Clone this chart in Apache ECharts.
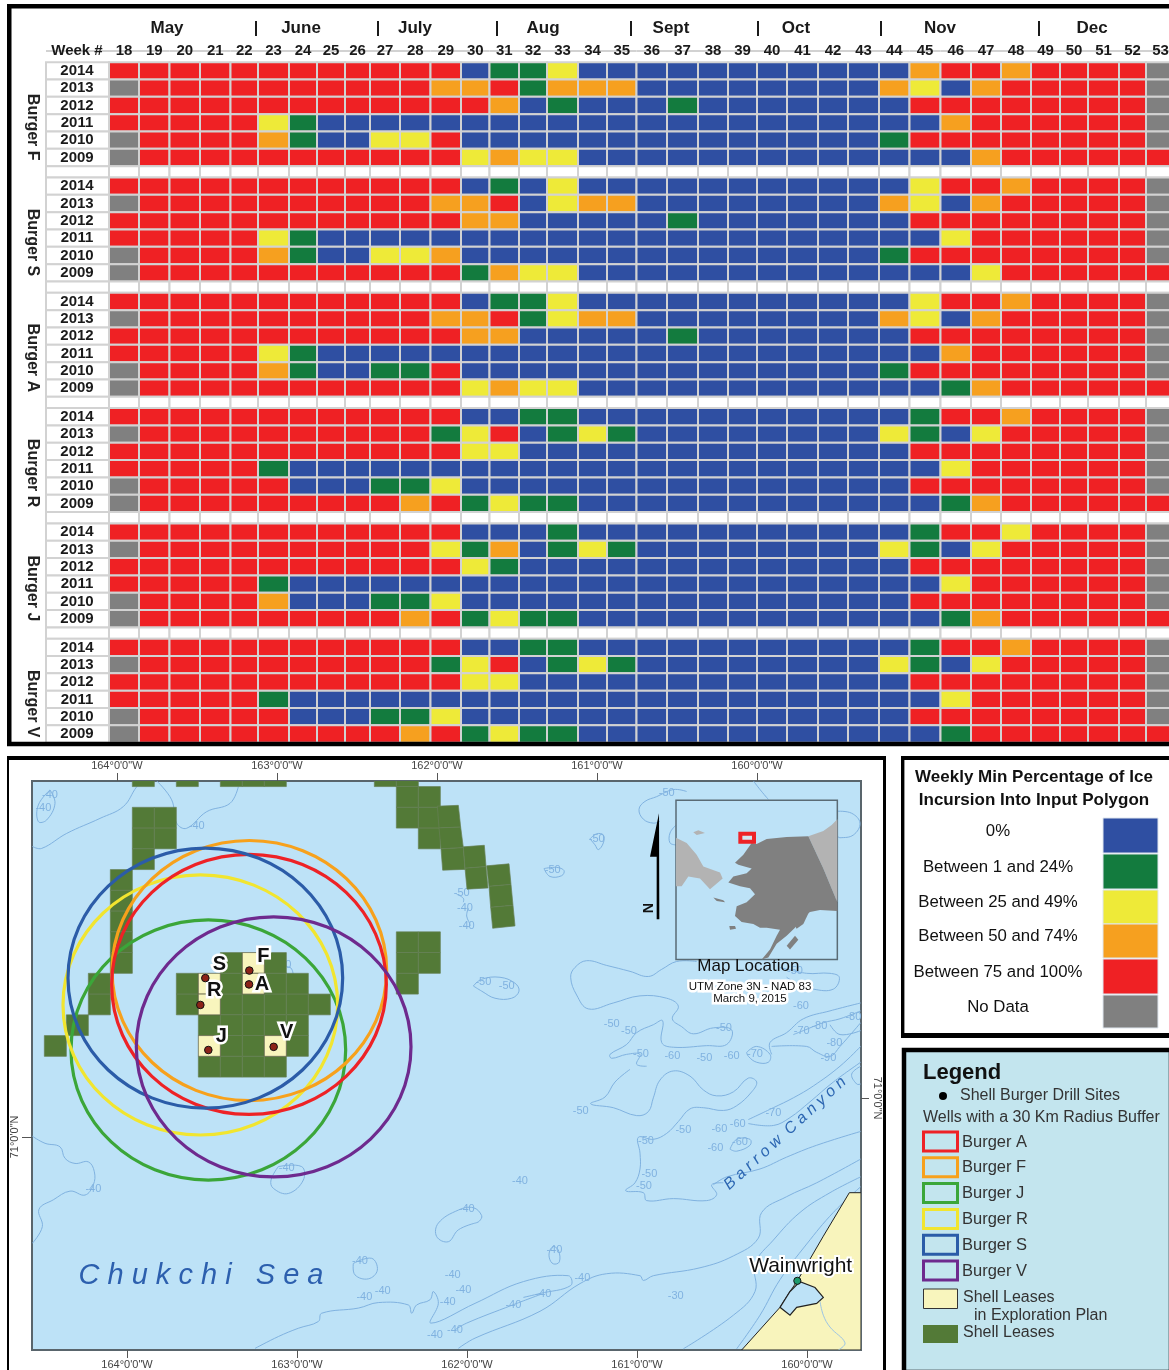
<!DOCTYPE html>
<html>
<head>
<meta charset="utf-8">
<title>Burger ice incursion</title>
<script src="https://cdn.jsdelivr.net/npm/echarts@6/dist/echarts.min.js"></script>
<style>
html, body { margin: 0; padding: 0; background: #fff; }
#chart { width: 1169px; height: 1370px; }
</style>
</head>
<body>
<div id="chart"></div>
<script>
/* ---- heat table data ---- */
var weeks = [18,19,20,21,22,23,24,25,26,27,28,29,30,31,32,33,34,35,36,37,38,39,40,41,42,43,44,45,46,47,48,49,50,51,52,53];
var years = ['2014','2013','2012','2011','2010','2009'];
var months = ['May','June','July','Aug','Sept','Oct','Nov','Dec'];
var siteNames = ['Burger F','Burger S','Burger A','Burger R','Burger J','Burger V'];

// one character per week: 0 = 0%, 1 = 1-24, 2 = 25-49, 3 = 50-74, 4 = 75-100, 5 = no data
var burgerF = [
  '444444444444 0112 00000000000 3443 4444 5',
  '5 4444444444 33 4 1 333 00000000 3 2 0 3 44444 5',
  '4444444444444 3 0 1 000 1 0000000 44444444 5',
  '44444 2 1 000000000000000000000 3 444444 5',
  '5 4444 3 1 00 22 4 00000000000000 1 44444444 5',
  '5 44444444444 2 3 2 2 0000000000000 3 444444'
];
var burgerS = [
  '444444444444 0 1 0 2 00000000000 2 4 4 3 4444 5',
  '5 4444444444 33 4 0 2 33 00000000 3 2 0 3 44444 5',
  '444444444444 33 00000 1 0000000 44444444 5',
  '44444 2 1 000000000000000000000 2 444444 5',
  '5 4444 3 1 00 22 3 00000000000000 1 44444444 5',
  '5 44444444444 1 3 2 2 0000000000000 2 444444'
];
var burgerA = [
  '444444444444 0 1 1 2 00000000000 2 4 4 3 4444 5',
  '5 4444444444 33 4 1 2 33 00000000 3 2 0 3 44444 5',
  '444444444444 33 00000 1 0000000 44444444 5',
  '44444 2 1 000000000000000000000 3 444444 5',
  '5 4444 3 1 00 11 4 00000000000000 1 44444444 5',
  '5 44444444444 2 3 2 2 000000000000 1 3 444444'
];
var burgerR = [
  '444444444444 0 0 1 1 00000000000 1 4 4 3 4444 5',
  '5 4444444444 1 2 4 0 1 2 1 00000000 2 1 0 2 44444 5',
  '444444444444 22 0000000000000 44444444 5',
  '44444 1 0000000000000000000000 2 444444 5',
  '5 44444 000 11 2 000000000000000 44444444 5',
  '5 444444444 3 4 1 2 1 1 000000000000 1 3 444444'
];
var burgerJ = [
  '444444444444 000 1 00000000000 1 44 2 4444 5',
  '5 4444444444 2 1 3 0 1 2 1 00000000 2 1 0 2 44444 5',
  '444444444444 2 1 0000000000000 44444444 5',
  '44444 1 0000000000000000000000 2 444444 5',
  '5 4444 3 000 11 2 000000000000000 44444444 5',
  '5 444444444 3 4 1 2 1 1 000000000000 1 3 444444'
];
var burgerV = [
  '444444444444 0 0 1 1 00000000000 1 4 4 3 4444 5',
  '5 4444444444 1 2 4 0 1 2 1 00000000 2 1 0 2 44444 5',
  '444444444444 22 0000000000000 44444444 5',
  '44444 1 0000000000000000000000 2 444444 5',
  '5 44444 000 11 2 000000000000000 44444444 5',
  '5 444444444 3 4 1 2 1 1 000000000000 1 4444444'
];
var allSites = [burgerF, burgerS, burgerA, burgerR, burgerJ, burgerV];

var iceLabels = ['0%','Between 1 and 24%','Between 25 and 49%','Between 50 and 74%','Between 75 and 100%','No Data'];
var iceColors = ['#2f4fa2','#137b3e','#eeea38','#f6a01f','#ef2124','#808080'];

/* ---- map data, in digitised map units ---- */
var drillNames = ['A','F','J','R','S','V'];
var drillX = [-573,-572,-695,-719,-704,-499];
var drillY = [593,558,759,645,577,751];
var bufferColors = ['#ee2226','#f7a11c','#3ba639','#f1e52f','#2b5ca8','#6e2a8e'];
var bufferOrder = [2,3,1,0,4,5];

var shellLeases = [
  [4,-2],[6,-2],[8,-2],[9,-2],[10,-2],[15,-2],[16,-2],
  [4,0],[5,0],[4,1],[5,1],[4,2],[3,3],[3,4],[3,5],[3,6],[3,7],[2,8],[2,9],[1,10],[0,11],
  [8,7],[10,7],[6,8],[8,8],[10,8],[11,8],[6,9],[8,9],[9,9],[10,9],[11,9],[12,9],
  [7,10],[8,10],[9,10],[10,10],[11,10],[8,11],[9,11],[11,11],[7,12],[8,12],[9,12],[10,12],
  [16,-1],[16,0],[17,-1],[17,0],[17,1],[16,6],[17,6],[16,7],[17,7],[16,8]
];
var planLeases = [[7,8],[7,9],[9,7],[9,8],[7,11],[10,11]];
var leaseChain = [
  [[-8,142],[55,140],[62,195],[-3,197]],
  [[-3,197],[62,195],[70,247],[3,250]],
  [[3,250],[70,247],[75,302],[8,304]],
  [[70,245],[133,241],[138,295],[75,299]],
  [[75,299],[138,295],[144,349],[81,352]],
  [[140,293],[207,288],[213,340],[147,345]],
  [[147,345],[213,340],[219,393],[152,398]],
  [[152,398],[219,393],[225,445],[158,451]]
];

var contours = [
  [[-1223,244],[-1195,249],[-1120,211],[-1020,173],[-950,143],[-910,93],[-890,78]],
  [[-850,78],[-805,126],[-790,185],[-760,198],[-700,156],[-630,135],[-605,93]],
  [[-1170,101],[-1155,135],[-1180,177],[-1205,181],[-1205,139],[-1170,101]],
  [[-1223,977],[-1185,995],[-1140,1004],[-1125,1033],[-1095,1046],[-1055,1042],[-1037,1067],[-1040,1100],[-1065,1126],[-1110,1116],[-1160,1138],[-1203,1162],[-1193,1206],[-1223,1248]],
  [[-485,1054],[-415,1054],[-410,1088],[-455,1122],[-500,1109],[-507,1088],[-485,1054]],
  [[-510,548],[-450,550],[-440,570]],
  [[105,1197],[55,1214],[25,1244],[-10,1231],[-5,1197],[55,1164],[100,1158],[125,1178],[118,1192],[105,1197]],
  [[-260,1299],[-205,1286],[-188,1316],[-215,1338],[-255,1328],[-260,1299]],
  [[-555,1514],[-485,1484],[-425,1463],[-365,1446],[-355,1425],[-245,1412],[-185,1398],[-95,1404],[-85,1425],[-70,1404],[-30,1391],[-20,1370],[-5,1400],[-27,1450],[105,1400],[250,1345],[385,1330],[392,1355],[300,1375],[250,1385]],
  [[45,1467],[80,1450],[215,1405],[300,1378]],
  [[55,1514],[105,1488],[300,1420],[420,1350],[500,1325],[600,1330],[610,1342],[640,1330],[780,1310],[880,1280],[955,1235],[965,1170],[1040,1130],[1130,1095],[1262,1035]],
  [[730,1515],[880,1430],[945,1370],[945,1300],[1000,1240],[1080,1170],[1170,1120],[1262,1080]],
  [[890,1515],[960,1430],[1020,1340],[1100,1250],[1180,1170],[1262,1105]],
  [[708,240],[690,235],[690,210],[708,190]],
  [[660,180],[640,185],[610,175],[597,150],[615,130],[650,118],[700,100],[740,105]],
  [[1192,155],[1235,160],[1260,185],[1240,215],[1200,222],[1192,218]],
  [[940,78],[960,100],[985,125]],
  [[450,225],[465,240],[475,252],[490,235],[490,215],[470,212],[450,225]],
  [[312,300],[350,297],[372,305],[365,318],[330,320],[312,300]],
  [[50,365],[70,375],[70,385]],
  [[85,400],[80,420],[90,445],[70,445]],
  [[100,597],[125,580],[180,575],[225,590],[237,610],[215,628],[165,628],[125,610],[100,597]],
  [[770,535],[710,535],[665,555],[625,573],[570,560],[500,545],[440,533],[405,550],[392,575],[410,620],[445,655],[520,640],[600,622],[680,628],[715,648],[697,680],[725,700],[760,718],[820,703],[875,708],[860,745],[800,748],[700,752],[665,740],[668,685],[640,695],[590,715],[560,745],[510,770],[515,780],[560,770],[600,770],[590,795],[620,800]],
  [[1020,550],[1100,565],[1170,565],[1198,575],[1180,605],[1120,605],[1070,590],[1040,575]],
  [[570,808],[525,840],[495,878],[452,895],[520,905],[590,925],[625,915],[640,880],[660,835],[700,812],[750,825],[790,860],[830,875],[880,865],[925,830],[950,840],[935,865],[890,900],[850,912],[790,905],[750,908],[715,940],[680,970],[640,985],[595,980],[600,1020],[600,1060],[585,1095],[557,1115],[610,1120],[620,1140],[700,1135],[800,1140],[830,1125],[815,1100],[850,1095]],
  [[995,770],[990,740],[1040,715],[1090,680],[1170,660],[1262,640]],
  [[1262,660],[1200,680],[1150,690],[1090,710],[1060,720]],
  [[1262,710],[1200,720],[1170,695]],
  [[920,765],[950,750],[990,770],[985,790],[950,790],[925,775],[920,765]],
  [[995,750],[1100,750],[1130,765],[1170,775],[1200,750],[1262,690]],
  [[925,935],[1000,905],[1060,880],[1120,850],[1200,800],[1262,750]],
  [[925,945],[1000,950],[1050,930],[1110,890],[1180,840],[1262,790]],
  [[1262,800],[1235,820],[1250,845],[1262,845]],
  [[870,1010],[890,985],[930,985],[930,1000],[890,1015],[870,1010]],
  [[820,1100],[860,1080],[960,1060],[1040,1030],[1130,1000],[1262,965]],
  [[340,1255],[355,1265],[358,1295],[340,1300],[328,1285],[330,1265],[340,1255]]
];
var contourLabelX = [-1170,-1190,-730,-470,-1040,-460,80,-240,-172,-227,38,70,23,-15,45,680,470,338,65,75,80,130,200,515,567,603,697,793,875,945,852,1083,1085,1138,1240,1183,1165,1065,422,730,618,838,893,1000,826,900,628,612,240,343,220,310,427,707];
var contourLabelY = [114,146,192,544,1111,1058,1162,1294,1368,1385,1328,1366,1397,1480,1467,108,225,303,362,400,445,587,597,693,710,770,775,780,775,770,703,648,712,697,675,740,778,560,912,962,988,960,945,918,1008,992,1072,1102,1090,1265,1403,1375,1335,1382];
var contourLabelText = [-40,-40,-40,-50,-40,-40,-40,-40,-40,-40,-40,-40,-40,-40,-40,-50,-50,-50,-50,-40,-40,-50,-50,-50,-50,-50,-60,-50,-60,-70,-50,-60,-70,-80,-80,-80,-90,-50,-50,-50,-50,-60,-60,-70,-60,-60,-50,-50,-40,-40,-40,-40,-40,-30];

var alaskaLand = [[885,285],[910,265],[935,235],[950,238],[980,225],[1040,220],[1105,218],[1150,300],[1192,385],[1192,407],[1140,405],[1110,410],[1085,425],[1065,450],[1040,470],[1010,490],[985,525],[965,530],[990,505],[1010,470],[1020,455],[980,450],[960,450],[940,440],[905,435],[885,420],[890,395],[920,385],[945,365],[930,350],[900,345],[865,335],[880,320],[920,312],[935,300],[895,290]];
var alaskaIslands = [
  [[868,445],[885,445],[888,452],[870,455]],
  [[1040,495],[1065,470],[1075,480],[1050,505]],
  [[1065,445],[1085,410],[1110,405],[1090,440],[1070,452]],
  [[820,373],[850,380],[855,385],[830,382]]
];
var otherLand = [
  [[1105,218],[1150,205],[1175,190],[1192,175],[1192,385],[1150,300]],
  [[708,222],[740,235],[770,265],[790,295],[840,310],[848,325],[810,352],[780,325],[745,320],[725,345],[708,345]],
  [[760,208],[775,203],[795,210],[770,215]]
];
var coastLand = [[905,1518],[1020,1410],[1050,1370],[1072,1343],[1150,1230],[1228,1120],[1263,1120],[1263,1518]];
var lagoon = [[1020,1410],[1050,1370],[1080,1345],[1125,1360],[1150,1385],[1130,1400],[1070,1410],[1050,1430]];
var riverLine = [[1140,1395],[1150,1430],[1170,1460],[1215,1500],[1195,1518]];
var arrowHead = [[657,160],[630,270],[650,270],[650,428],[658,428]];
var insetBox = [[708,127],[1192,127],[1192,530],[708,530]];
var locatorBox = [[901,212],[942,212],[942,232],[901,232]];

var lonTicks = [-164,-163,-162,-161,-160];
var latTicks = [71];

/* ---- layout ---- */
var font = '"Liberation Sans", Arial, sans-serif';
var water = '#bde2f7';
var gapColor = '#d2d2d2';
var leaseGreen = '#537a37';
var leaseCream = '#f8f5bd';
var contourColor = '#80b2e0';

// column widths of the table, they are not quite even in the source
var weekWidths = [30,30.5,30.5,30.5,27.5,31,28,28,25,30,30.5,30.5,28.5,29.5,28,31,29,29.5,30.5,31,30,29,30,31,30,31,30.5,31,30.5,30,30,29,28,31,27,29];
var weekOffsets = [0];
for (var i = 0; i < weekWidths.length; i++) weekOffsets.push(weekOffsets[i] + weekWidths[i]);
var tableWidth = weekOffsets[weekOffsets.length - 1];
var rowHeadWidth = 63;
var groupTop = 62.2, groupStep = 115.3, groupHeight = 104;
var monthCenters = [58,192,306,434,562,687,831,983];
var monthBreaks = [147,269,388,522,649,772,930];

var leaseLeft = -1187, leaseTop = 145, leaseW = 66, leaseH = 52.5;
var bufferRx = 412, bufferRy = 329;
var mapBox = { left: 32, top: 781, width: 829, height: 569 };

function poly(api, pts) {
  return pts.map(function (p) { return api.coord(p); });
}

function renderCell(groupIndex) {
  return function (params, api) {
    var w = api.value(0), yr = api.value(1), code = api.value(2);
    var a = api.coord([weekOffsets[w], yr]);
    var b = api.coord([weekOffsets[w + 1], yr + 1]);
    var h = b[1] - a[1];
    var top = a[1] - h / 2;
    var kids = [{
      type: 'rect',
      shape: { x: a[0], y: top, width: b[0] - a[0], height: h },
      style: { fill: iceColors[code], stroke: gapColor, lineWidth: 2 }
    }];
    if (w === 0) {
      var head = api.coord([-rowHeadWidth, yr]);
      kids.push({
        type: 'rect',
        shape: { x: head[0], y: top, width: a[0] - head[0], height: h },
        style: { fill: '#fff', stroke: gapColor, lineWidth: 2 }
      });
    }
    // white spacer row under each group
    if (yr === 5 && groupIndex < 5) {
      var gapH = groupStep - groupHeight;
      var headX = api.coord([-rowHeadWidth, yr])[0];
      kids.push({
        type: 'rect',
        shape: { x: a[0], y: top + h, width: b[0] - a[0], height: gapH },
        style: { fill: '#fff', stroke: gapColor, lineWidth: 2 }
      });
      if (w === 0) {
        kids.push({
          type: 'rect',
          shape: { x: headX, y: top + h, width: a[0] - headX, height: gapH },
          style: { fill: '#fff', stroke: gapColor, lineWidth: 2 }
        });
      }
    }
    return { type: 'group', children: kids };
  };
}

function renderHeader(params, api) {
  var w = api.value(0);
  var a = api.coord([weekOffsets[w], 0]);
  var b = api.coord([weekOffsets[w + 1], 1]);
  var h = b[1] - a[1];
  var kids = [{
    type: 'rect',
    shape: { x: a[0], y: a[1] - h / 2, width: b[0] - a[0], height: h },
    style: { fill: '#fff', stroke: gapColor, lineWidth: 2 }
  }, {
    type: 'text',
    style: { x: (a[0] + b[0]) / 2, y: a[1], text: String(weeks[w]), font: 'bold 15px ' + font, fill: '#1a1a1a', align: 'center', verticalAlign: 'middle' }
  }];
  if (w === 0) {
    var head = api.coord([-rowHeadWidth, 0]);
    kids.push({
      type: 'rect',
      shape: { x: head[0], y: a[1] - h / 2, width: a[0] - head[0], height: h },
      style: { fill: '#fff', stroke: gapColor, lineWidth: 2 }
    });
  }
  return { type: 'group', children: kids };
}

function renderMonth(params, api) {
  var m = api.value(0);
  var p = api.coord([monthCenters[m], 0]);
  var kids = [{
    type: 'text',
    style: { x: p[0], y: p[1] - 23, text: months[m], font: 'bold 17px ' + font, fill: '#1a1a1a', align: 'center', verticalAlign: 'middle' }
  }];
  if (m < monthBreaks.length) {
    var q = api.coord([monthBreaks[m], 0]);
    kids.push({
      type: 'line',
      shape: { x1: q[0], y1: p[1] -30, x2: q[0], y2: p[1] - 15 },
      style: { stroke: '#1a1a1a', lineWidth: 2 }
    });
  }
  return { type: 'group', children: kids };
}

function cellData(rows) {
  var out = [];
  rows.forEach(function (row, yr) {
    row.replace(/ /g, '').split('').forEach(function (c, w) {
      out.push([w, yr, +c]);
    });
  });
  return out;
}

function indexData(list) {
  return list.map(function (d, i) { return [i]; });
}

function polygonSeries(list, style, clip, z) {
  return {
    type: 'custom', coordinateSystem: 'cartesian2d',
    clip: clip, silent: true, z: z, data: indexData(list),
    renderItem: function (params, api) {
      return { type: 'polygon', shape: { points: poly(api, list[api.value(0)]) }, style: style };
    }
  };
}

function lineSeries(list, style, z) {
  return {
    type: 'custom', coordinateSystem: 'cartesian2d',
    clip: true, silent: true, z: z, data: indexData(list),
    renderItem: function (params, api) {
      return { type: 'polyline', shape: { points: poly(api, list[api.value(0)]), smooth: 0.4 }, style: style };
    }
  };
}

function leaseSeries(cells, fill, stroke, z) {
  return {
    type: 'custom', coordinateSystem: 'cartesian2d',
    clip: true, silent: true, z: z, data: cells,
    renderItem: function (params, api) {
      var a = api.coord([leaseLeft + api.value(0) * leaseW, leaseTop + api.value(1) * leaseH]);
      var b = api.coord([leaseLeft + (api.value(0) + 1) * leaseW, leaseTop + (api.value(1) + 1) * leaseH]);
      return {
        type: 'rect',
        shape: { x: a[0], y: a[1], width: b[0] - a[0], height: b[1] - a[1] },
        style: { fill: fill, stroke: stroke, lineWidth: 0.7 }
      };
    }
  };
}

// free text inside the map, placed in map units
function mapTextSeries(list, z) {
  return {
    type: 'custom', coordinateSystem: 'cartesian2d',
    silent: true, z: z, data: indexData(list),
    renderItem: function (params, api) {
      var t = list[api.value(0)];
      var p = api.coord([t.x, t.y]);
      return {
        type: 'text', x: p[0], y: p[1], rotation: t.rotate || 0,
        style: {
          x: 0, y: 0, text: t.text, font: t.font, fill: t.fill, align: 'center', verticalAlign: 'middle',
          stroke: t.halo ? '#fff' : null, lineWidth: t.halo || 0
        }
      };
    }
  };
}

/* ---- axes and series ---- */
var grids = [], xAxes = [], yAxes = [], series = [];

siteNames.forEach(function (name, i) {
  grids.push({ left: 46, top: groupTop + groupStep * i, width: rowHeadWidth + tableWidth, height: groupHeight, outerBoundsMode: 'none' });
  xAxes.push({ type: 'value', gridIndex: i, min: -rowHeadWidth, max: tableWidth, show: false });
  yAxes.push({
    type: 'category', gridIndex: i, data: years, inverse: true, z: 5,
    name: name, nameLocation: 'middle', nameRotate: -90, nameGap: 6,
    nameTextStyle: { fontFamily: 'Liberation Sans', fontSize: 16, fontWeight: 'bold', color: '#222', padding: [0, 0, 0, 26] },
    axisLine: { show: false }, axisTick: { show: false },
    axisLabel: { inside: true, interval: 0, margin: 31, align: 'center', fontFamily: 'Liberation Sans', fontSize: 15, fontWeight: 'bold', color: '#1a1a1a' }
  });
  series.push({
    type: 'custom', coordinateSystem: 'cartesian2d', xAxisIndex: i, yAxisIndex: i,
    silent: true, data: cellData(allSites[i]), renderItem: renderCell(i)
  });
});

// header row, grid 6
grids.push({ left: 46, top: 40, width: rowHeadWidth + tableWidth, height: 22, outerBoundsMode: 'none' });
xAxes.push({ type: 'value', gridIndex: 6, min: -rowHeadWidth, max: tableWidth, show: false });
yAxes.push({
  type: 'category', gridIndex: 6, data: ['Week #'], z: 5,
  axisLine: { show: false }, axisTick: { show: false },
  axisLabel: { inside: true, interval: 0, margin: 31, align: 'center', fontFamily: 'Liberation Sans', fontSize: 15, fontWeight: 'bold', color: '#1a1a1a' }
});
series.push({
  type: 'custom', coordinateSystem: 'cartesian2d', xAxisIndex: 6, yAxisIndex: 6,
  silent: true, data: indexData(weeks), renderItem: renderHeader
});
series.push({
  type: 'custom', coordinateSystem: 'cartesian2d', xAxisIndex: 6, yAxisIndex: 6,
  silent: true, data: indexData(months), renderItem: renderMonth
});

// map graticule, grid 7: top and bottom longitudes run at different scales
function lonLabel(v) { return Math.abs(v) + '\u00b00\'0"W'; }
function latLabel(v) { return v + '\u00b00\'0"N'; }
var tickStyle = { color: '#555', width: 1 };
var graticuleText = { fontFamily: 'Liberation Sans', fontSize: 11, color: '#444' };
grids.push({ left: mapBox.left, top: mapBox.top, width: mapBox.width, height: mapBox.height, show: true, backgroundColor: water, borderColor: '#59656c', borderWidth: 2, z: 0, outerBoundsMode: 'none' });
xAxes.push({
  type: 'value', gridIndex: 7, position: 'top', min: -164.53, max: -159.35,
  splitLine: { show: false }, axisLine: { show: false },
  axisTick: { show: true, length: 8, lineStyle: tickStyle, customValues: lonTicks },
  axisLabel: Object.assign({ customValues: lonTicks, formatter: lonLabel, margin: 10 }, graticuleText)
});
xAxes.push({
  type: 'value', gridIndex: 7, position: 'bottom', min: -164.559, max: -159.682,
  splitLine: { show: false }, axisLine: { show: false },
  axisTick: { show: true, length: 8, lineStyle: tickStyle, customValues: lonTicks },
  axisLabel: Object.assign({ customValues: lonTicks, formatter: lonLabel, margin: 9 }, graticuleText)
});
yAxes.push({
  type: 'value', gridIndex: 7, position: 'left', min: 70.5815, max: 71.699,
  splitLine: { show: false }, axisLine: { show: false },
  axisTick: { show: true, length: 10, lineStyle: tickStyle, customValues: latTicks },
  axisLabel: Object.assign({ customValues: latTicks, formatter: latLabel, rotate: 90, margin: 12 }, graticuleText)
});
yAxes.push({
  type: 'value', gridIndex: 7, position: 'right', min: 70.505, max: 71.623,
  splitLine: { show: false }, axisLine: { show: false },
  axisTick: { show: true, length: 8, lineStyle: tickStyle, customValues: latTicks },
  axisLabel: Object.assign({ customValues: latTicks, formatter: latLabel, rotate: -90, margin: 11 }, graticuleText)
});

// hidden map-unit axes over the same box, grid 8
grids.push({ left: mapBox.left, top: mapBox.top, width: mapBox.width, height: mapBox.height, outerBoundsMode: 'none' });
xAxes.push({ type: 'value', gridIndex: 8, min: -1224, max: 1263, show: false });
yAxes.push({ type: 'value', gridIndex: 8, min: 78.4, max: 1518, inverse: true, show: false });
var mapAxis = xAxes.length - 1;

var contourLabels = contourLabelX.map(function (x, i) {
  return { x: x, y: contourLabelY[i], text: String(contourLabelText[i]), font: '11px ' + font, fill: contourColor };
});
var mapTexts = [
  { x: -717, y: 1331, text: 'C h u k c h i   S e a', font: 'italic 29px ' + font, fill: '#2c5fae' },
  { x: 1035, y: 970, text: 'B a r r o w  C a n y o n', font: 'italic 16px ' + font, fill: '#2c66b2', rotate: 0.74 },
  { x: 925, y: 548, text: 'Map Location', font: '17px ' + font, fill: '#111' },
  { x: 930, y: 600, text: 'UTM Zone 3N - NAD 83', font: '11.5px ' + font, fill: '#111', halo: 5 },
  { x: 930, y: 630, text: 'March 9, 2015', font: '11.5px ' + font, fill: '#111', halo: 5 },
  { x: 1082, y: 1305, text: 'Wainwright', font: '21px ' + font, fill: '#111', halo: 4 },
  { x: 620, y: 400, text: 'N', font: 'bold 14px ' + font, fill: '#111', rotate: -1.5708 }
];

function onMap(s) { s.xAxisIndex = mapAxis; s.yAxisIndex = mapAxis; return s; }

series.push(onMap(lineSeries(contours, { fill: null, stroke: contourColor, lineWidth: 1 }, 3)));
series.push(onMap(mapTextSeries(contourLabels, 3)));
series.push(onMap(leaseSeries(shellLeases, leaseGreen, '#667f55', 4)));
series.push(onMap(polygonSeries(leaseChain, { fill: leaseGreen, stroke: '#667f55', lineWidth: 0.7 }, true, 4)));
series.push(onMap(leaseSeries(planLeases, leaseCream, '#5a5a40', 5)));
series.push(onMap(polygonSeries([coastLand], { fill: '#f8f4bc', stroke: '#222', lineWidth: 1 }, true, 4)));
series.push(onMap(polygonSeries([lagoon], { fill: water, stroke: '#222', lineWidth: 1.2 }, true, 4)));
series.push(onMap(lineSeries([riverLine], { fill: null, stroke: '#9cc4e4', lineWidth: 1 }, 4)));

// 30 km buffers round the drill sites
series.push(onMap({
  type: 'custom', coordinateSystem: 'cartesian2d', silent: true, z: 6, clip: true,
  data: bufferOrder.map(function (k) { return [drillX[k], drillY[k], k]; }),
  renderItem: function (params, api) {
    var c = api.coord([api.value(0), api.value(1)]);
    var e = api.coord([api.value(0) + bufferRx, api.value(1) + bufferRy]);
    return {
      type: 'ellipse',
      shape: { cx: c[0], cy: c[1], rx: e[0] - c[0], ry: e[1] - c[1] },
      style: { fill: 'none', stroke: bufferColors[api.value(2)], lineWidth: 3.2 }
    };
  }
}));
// drill sites and their letters
var labelShift = [[13, 0], [14, -14], [13, -14], [14, -14], [14, -14], [13, -14]];
series.push(onMap({
  type: 'custom', coordinateSystem: 'cartesian2d', silent: true, z: 7,
  data: drillX.map(function (x, i) { return [x, drillY[i], i]; }),
  renderItem: function (params, api) {
    var k = api.value(2);
    var c = api.coord([api.value(0), api.value(1)]);
    return {
      type: 'group', children: [{
        type: 'circle', shape: { cx: c[0], cy: c[1], r: 3.8 },
        style: { fill: '#8c2318', stroke: '#111', lineWidth: 1 }
      }, {
        type: 'text',
        style: {
          x: c[0] + labelShift[k][0], y: c[1] + labelShift[k][1], text: drillNames[k],
          font: 'bold 20px ' + font, fill: '#111', stroke: '#fff', lineWidth: 5, align: 'center', verticalAlign: 'middle'
        }
      }]
    };
  }
}));

// location inset
series.push(onMap(polygonSeries([insetBox], { fill: water, stroke: '#5a6b75', lineWidth: 1.5 }, false, 8)));
series.push(onMap(polygonSeries(otherLand, { fill: '#b3b3b3' }, false, 8)));
series.push(onMap(polygonSeries([alaskaLand], { fill: '#808080' }, false, 8)));
series.push(onMap(polygonSeries(alaskaIslands, { fill: '#808080' }, false, 8)));
series.push(onMap(polygonSeries([locatorBox], { fill: '#d3e7f2', stroke: '#ee2226', lineWidth: 4 }, false, 8)));
series.push(onMap(polygonSeries([arrowHead], { fill: '#000' }, false, 8)));
series.push(onMap(mapTextSeries(mapTexts, 9)));
series.push(onMap({
  type: 'custom', coordinateSystem: 'cartesian2d', silent: true, z: 9, data: [[1072, 1343]],
  renderItem: function (params, api) {
    var c = api.coord([api.value(0), api.value(1)]);
    return { type: 'circle', shape: { cx: c[0], cy: c[1], r: 3.6 }, style: { fill: '#1d9a6c', stroke: '#111', lineWidth: 1 } };
  }
}));

/* ---- panel frames and the two keys ---- */
var gfx = [];
function box(x, y, w, h, fill, stroke, lw) {
  gfx.push({ type: 'rect', silent: true, z: 50, shape: { x: x, y: y, width: w, height: h }, style: { fill: fill || 'none', stroke: stroke || 'none', lineWidth: lw || 0 } });
}
function label(x, y, text, f, align, fill) {
  gfx.push({ type: 'text', silent: true, z: 51, style: { x: x, y: y, text: text, font: f + ' ' + font, fill: fill || '#111', align: align || 'left', verticalAlign: 'middle' } });
}

// table frame
box(7, 4, 1162, 4.4, '#000');
box(7, 4, 4.5, 742, '#000');
box(7, 741.8, 1162, 4.4, '#000');
// map frame
box(7, 756, 879, 4, '#000');
box(7, 756, 2, 614, '#000');
box(883, 756, 3, 614, '#000');
// ice key
box(901, 756, 268, 4, '#000');
box(901, 756, 3.4, 282, '#000');
box(901, 1033, 268, 5, '#000');
label(1034, 777, 'Weekly Min Percentage of Ice', 'bold 17px', 'center');
label(1034, 800, 'Incursion Into Input Polygon', 'bold 17px', 'center');
var keyTop = [818,854,890,924,959,995];
var keyBottom = [853,889,924,958,994,1028];
var keyText = [831,867,902,936,972,1007];
iceLabels.forEach(function (t, i) {
  label(998, keyText[i], t, '16.8px', 'center');
  box(1103, keyTop[i], 55, keyBottom[i] - keyTop[i], iceColors[i], '#dfe6ee', 1);
});
// map legend
box(904, 1050, 267, 322, '#c3e5ee', '#000', 4.5);
label(923, 1073, 'Legend', 'bold 22px');
gfx.push({ type: 'circle', silent: true, z: 51, shape: { cx: 943, cy: 1096, r: 4 }, style: { fill: '#000' } });
label(960, 1096, 'Shell Burger Drill Sites', '16px', 'left', '#333');
label(923, 1118, 'Wells with a 30 Km Radius Buffer', '16px', 'left', '#333');
drillNames.forEach(function (n, i) {
  var y = 1132 + i * 25.8;
  box(923.5, y, 34, 19, 'none', bufferColors[i], 3);
  label(962, y + 10, 'Burger ' + n, '16.5px', 'left', '#333');
});
box(923.5, 1289, 34, 19.5, leaseCream, '#333', 1);
label(963, 1298, 'Shell Leases', '16px', 'left', '#333');
label(974, 1316, 'in Exploration Plan', '16px', 'left', '#333');
box(923, 1325, 35, 18, leaseGreen);
label(963, 1333, 'Shell Leases', '16px', 'left', '#333');

var chart = echarts.init(document.getElementById('chart'), null, { renderer: 'canvas' });
chart.setOption({
  animation: false,
  backgroundColor: '#fff',
  textStyle: { fontFamily: 'Liberation Sans' },
  grid: grids,
  xAxis: xAxes,
  yAxis: yAxes,
  series: series,
  graphic: { elements: gfx }
});
</script>
</body>
</html>
